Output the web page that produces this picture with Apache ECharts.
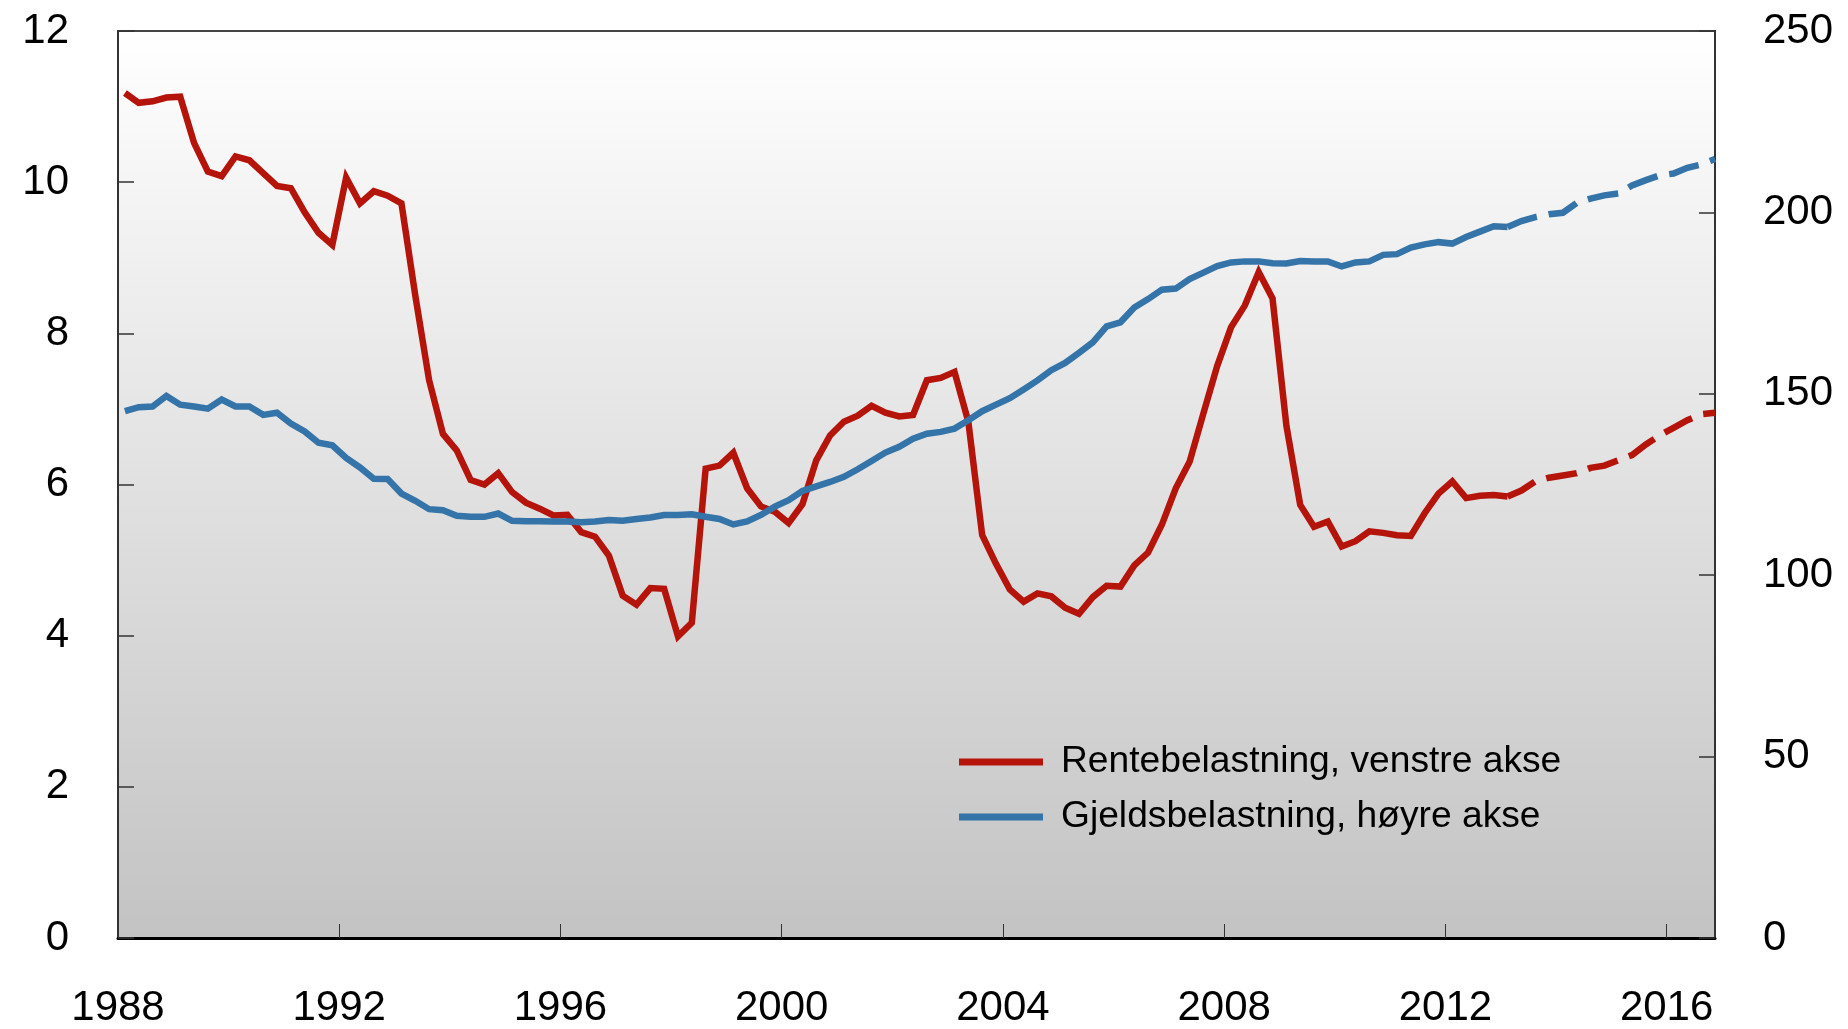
<!DOCTYPE html>
<html>
<head>
<meta charset="utf-8">
<title>Rentebelastning og gjeldsbelastning</title>
<script src="https://cdn.jsdelivr.net/npm/echarts@6/dist/echarts.min.js"></script>
<style>
  html, body { margin: 0; padding: 0; background: #fff; }
  #chart { width: 1848px; height: 1029px; }
</style>
</head>
<body>
<div id="chart"></div>
<script>
// kvartalstall, 1988K1 - 2016K4
const startYear = 1988
const forecastStart = 100 // 2013K1, stiplet linje herfra
const yearTicks = [1988, 1992, 1996, 2000, 2004, 2008, 2012, 2016]
const leftTicks = [0, 2, 4, 6, 8, 10, 12]
const rightTicks = [0, 50, 100, 150, 200, 250]

const renteName = 'Rentebelastning, venstre akse'
const gjeldName = 'Gjeldsbelastning, høyre akse'

const renteValues = [
  11.18, 11.05, 11.07, 11.12, 11.13, 10.52, 10.14, 10.08, 10.34, 10.29,
  10.12, 9.95, 9.92, 9.60, 9.33, 9.17, 10.06, 9.72, 9.88, 9.82,
  9.72, 8.50, 7.38, 6.67, 6.45, 6.06, 6.00, 6.15, 5.90, 5.76,
  5.68, 5.59, 5.60, 5.37, 5.31, 5.06, 4.53, 4.41, 4.63, 4.62,
  3.99, 4.17, 6.21, 6.25, 6.42, 5.95, 5.71, 5.64, 5.49, 5.74,
  6.32, 6.65, 6.83, 6.91, 7.04, 6.95, 6.90, 6.92, 7.38, 7.41,
  7.49, 6.83, 5.33, 4.95, 4.61, 4.45, 4.56, 4.52, 4.37, 4.29,
  4.51, 4.66, 4.65, 4.93, 5.10, 5.47, 5.95, 6.30, 6.94, 7.57,
  8.08, 8.37, 8.81, 8.46, 6.78, 5.73, 5.44, 5.51, 5.18, 5.25,
  5.38, 5.36, 5.33, 5.32, 5.62, 5.88, 6.04, 5.82, 5.85, 5.86,
  5.84, 5.92, 6.04, 6.09, 6.12, 6.15, 6.22, 6.25, 6.32, 6.39,
  6.53, 6.65, 6.75, 6.85, 6.93, 6.95
]

const gjeldValues = [
  145.2, 146.3, 146.5, 149.4, 147.0, 146.5, 145.9, 148.4, 146.5, 146.5,
  144.2, 144.8, 141.8, 139.6, 136.5, 135.8, 132.3, 129.7, 126.6, 126.5,
  122.5, 120.5, 118.2, 117.9, 116.4, 116.1, 116.1, 117.0, 115.0, 114.9,
  114.9, 114.8, 114.8, 114.6, 114.8, 115.2, 115.0, 115.5, 115.9, 116.6,
  116.6, 116.8, 116.1, 115.5, 114.0, 114.8, 116.6, 118.9, 120.7, 123.2,
  124.5, 125.7, 127.1, 129.2, 131.5, 133.8, 135.4, 137.6, 139.0, 139.5,
  140.4, 142.7, 145.2, 147.0, 148.8, 151.2, 153.7, 156.5, 158.5, 161.3,
  164.2, 168.6, 169.7, 173.8, 176.1, 178.7, 179.0, 181.6, 183.4, 185.2,
  186.2, 186.5, 186.5, 186.0, 185.9, 186.6, 186.5, 186.5, 185.1, 186.2,
  186.5, 188.3, 188.5, 190.3, 191.2, 191.8, 191.4, 193.2, 194.7, 196.2,
  196.0, 197.6, 198.7, 199.5, 199.9, 202.6, 203.8, 204.7, 205.2, 207.4,
  208.9, 210.2, 210.7, 212.3, 213.2, 214.7
]

// midt i hvert kvartal
const quarterDates = renteValues.map((v, i) => startYear + (i + 0.5) / 4)

const toPairs = (values) => values.map((v, i) => [quarterDates[i], v])
const rentePairs = toPairs(renteValues)
const gjeldPairs = toPairs(gjeldValues)

const RED = '#b5140a'
const BLUE = '#3574a8'
const FONT = "'Liberation Sans', Arial, Helvetica, sans-serif"

const chart = echarts.init(document.getElementById('chart'))

const lineSeries = (name, pairs, color, axis, dashed) => ({
  name,
  type: 'line',
  yAxisIndex: axis,
  data: pairs,
  showSymbol: false,
  symbol: 'none',
  silent: true,
  lineStyle: {
    color,
    width: 6.5,
    cap: 'butt',
    join: 'miter',
    type: dashed ? [31, 12] : 'solid'
  },
  itemStyle: { color }
})

const options = {
  animation: false,
  textStyle: { fontFamily: FONT, color: '#000' },
  grid: {
    left: 118,
    right: 133,
    top: 31,
    bottom: 88,
    show: true,
    borderWidth: 2,
    borderColor: '#444',
    backgroundColor: new echarts.graphic.LinearGradient(0, 0, 0, 1, [
      { offset: 0, color: '#ffffff' },
      { offset: 1, color: '#c3c3c3' }
    ])
  },
  legend: {
    data: [renteName, gjeldName],
    left: 959,
    top: 742,
    padding: 0,
    orient: 'vertical',
    icon: 'rect',
    itemWidth: 84,
    itemHeight: 7,
    itemGap: 15,
    selectedMode: false,
    textStyle: {
      fontFamily: FONT,
      fontSize: 37.2,
      lineHeight: 40,
      color: '#000',
      padding: [0, 0, 0, 13]
    }
  },
  xAxis: {
    type: 'value',
    min: startYear,
    max: quarterDates[quarterDates.length - 1],
    axisLine: { lineStyle: { color: '#000', width: 3 } },
    axisTick: {
      inside: true,
      length: 14,
      customValues: yearTicks,
      lineStyle: { color: '#333', width: 1 }
    },
    axisLabel: {
      customValues: yearTicks,
      margin: 49,
      fontSize: 42,
      fontFamily: FONT,
      color: '#000',
      formatter: (v) => String(v)
    },
    splitLine: { show: false }
  },
  yAxis: [{
    type: 'value',
    position: 'left',
    min: 0,
    max: 12,
    interval: 2,
    axisLine: { show: true, lineStyle: { color: '#333', width: 2 } },
    axisTick: {
      show: true,
      inside: true,
      length: 16,
      customValues: leftTicks,
      lineStyle: { color: '#333', width: 1.5 }
    },
    axisLabel: {
      margin: 49,
      fontSize: 42,
      fontFamily: FONT,
      color: '#000'
    },
    splitLine: { show: false }
  }, {
    type: 'value',
    position: 'right',
    min: 0,
    max: 250,
    interval: 50,
    axisLine: { show: true, lineStyle: { color: '#333', width: 2 } },
    axisTick: {
      show: true,
      inside: true,
      length: 16,
      customValues: rightTicks,
      lineStyle: { color: '#333', width: 1.5 }
    },
    axisLabel: {
      margin: 48,
      fontSize: 42,
      fontFamily: FONT,
      color: '#000'
    },
    splitLine: { show: false }
  }],
  series: [
    lineSeries(renteName, rentePairs.slice(0, forecastStart + 1), RED, 0, false),
    lineSeries('Rentebelastning, anslag', rentePairs.slice(forecastStart), RED, 0, true),
    lineSeries(gjeldName, gjeldPairs.slice(0, forecastStart + 1), BLUE, 1, false),
    lineSeries('Gjeldsbelastning, anslag', gjeldPairs.slice(forecastStart), BLUE, 1, true)
  ]
}

chart.setOption(options)
</script>
</body>
</html>
